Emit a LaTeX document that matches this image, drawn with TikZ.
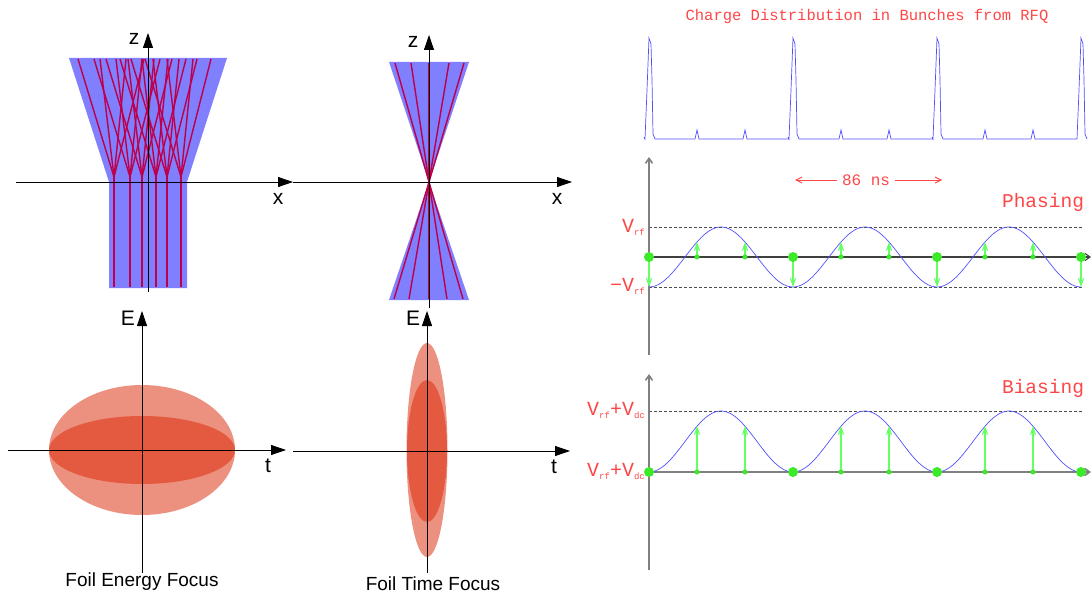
\documentclass[tikz,border=0pt]{standalone}
\usepackage{fontspec}
\setmainfont{Liberation Sans}
\newfontfamily\plotfont{Liberation Mono}
\usetikzlibrary{positioning}
\usetikzlibrary{arrows.meta}

\definecolor{beamblue}{RGB}{128,128,255}
\definecolor{raycrimson}{RGB}{190,0,75}
\definecolor{outerred}{RGB}{236,144,128}
\definecolor{innerred}{RGB}{228,90,64}
\definecolor{plotred}{RGB}{255,70,70}
\definecolor{curveblue}{RGB}{80,80,255}
\definecolor{kickgreen}{RGB}{100,255,100}
\definecolor{dotgreen}{RGB}{60,235,40}

\newcommand{\lowtxt}[1]{\raisebox{-3pt}{\fontsize{9}{9}\selectfont #1}}

\tikzset{
  plotaxis/.style={black, line width=0.8pt, -{Triangle[length=15pt,width=10pt]}},
  axlabel/.style={font=\fontsize{21}{21}\selectfont},
  caption/.style={font=\fontsize{19}{19}\selectfont},
  ray/.style={raycrimson, line width=1.4pt},
  rfaxis/.style={gray, line width=1.6pt, -{Straight Barb[length=5pt,width=7pt]}},
  rflevel/.style={black!70, densely dashed, line width=0.6pt},
  wave/.style={curveblue, line width=0.7pt},
  kick/.style={kickgreen, line width=1.1pt, -{Straight Barb[length=7pt,width=5pt]}},
  bigdot/.style={circle, fill=dotgreen, inner sep=0pt, minimum size=10pt},
  smalldot/.style={circle, fill=dotgreen, inner sep=0pt, minimum size=5pt},
  rftext/.style={text=plotred, font=\plotfont\fontsize{#1}{#1}\selectfont},
  rfarrow/.style={plotred, line width=0.9pt, -{Straight Barb[length=6pt,width=6pt]}}
}

\begin{document}
\begin{tikzpicture}[x=1pt, y=-1pt]
\useasboundingbox (0,0) rectangle (1092,599);

% energy focus, beam
\fill[beamblue] (69,58) -- (227,58) -- (187,182) -- (187,288) -- (109,288) -- (109,182) -- cycle;
\foreach \b in {114,130,142,156,167,181} {
  \foreach \d in {-36,-14,12,30}
    \draw[ray] (\b,177) -- (\b+\d,59);
  \draw[ray] (\b,177) -- (\b,287);
}
\coordinate (xl0) at (16,182);
\coordinate (xl1) at (293,182);
\coordinate (zl0) at (148,292);
\coordinate (zl1) at (148,33);
\draw[plotaxis] (xl0) -- (xl1);
\draw[plotaxis] (zl0) -- (zl1);
\node[axlabel] (xlab1) at (278,199) {x};
\node[axlabel] (zlab1) at (134,39) {z};

% time focus, beam
\fill[beamblue] (389,62) -- (469,62) -- (429,182) -- cycle;
\fill[beamblue] (389,300) -- (469,300) -- (429,182) -- cycle;
\foreach \t in {395,411,429,449,464}
  \draw[ray] (\t,63) -- (429,182) -- (858-\t,299);
\coordinate (xm0) at (293,182);
\coordinate (xm1) at (572,182);
\coordinate (zm0) at (429,308);
\coordinate (zm1) at (429,35);
\draw[plotaxis] (xm0) -- (xm1);
\draw[plotaxis] (zm0) -- (zm1);
\node[axlabel] (xlab2) at (557,199) {x};
\node[axlabel] (zlab2) at (413,42) {z};

% phase space
\fill[outerred] (142,450) ellipse [x radius=93pt, y radius=65pt];
\fill[innerred] (142,450) ellipse [x radius=93pt, y radius=34pt];
\coordinate (tl0) at (8,450);
\coordinate (tl1) at (286,450);
\coordinate (el0) at (142,573);
\coordinate (el1) at (142,311);
\draw[plotaxis] (tl0) -- (tl1);
\draw[plotaxis] (el0) -- (el1);
\node[axlabel] (tlab1) at (268,466) {t};
\node[axlabel] (elab1) at (128,318) {E};
\node[caption] (cap1) at (142,582) {Foil Energy Focus};

\fill[outerred] (427,450) ellipse [x radius=20.5pt, y radius=107pt];
\fill[innerred] (427,451) ellipse [x radius=20pt, y radius=71pt];
\coordinate (tm0) at (293,451);
\coordinate (tm1) at (570,451);
\coordinate (em0) at (427,573);
\coordinate (em1) at (427,311);
\draw[plotaxis] (tm0) -- (tm1);
\draw[plotaxis] (em0) -- (em1);
\node[axlabel] (tlab2) at (554,467) {t};
\node[axlabel] (elab2) at (413,318) {E};
\node[caption] (cap2) at (433,584) {Foil Time Focus};

% bunches from RFQ
\node[rftext=15.5] (title) at (867,16) {Charge Distribution in Bunches from RFQ};
\foreach \p in {649,793,937}
  \draw[wave] (\p-5,137) -- (\p-4,139) -- (\p-2,90) -- (\p,38) -- (\p+2,44) -- (\p+3,80) -- (\p+4,134) -- (\p+6,139)
    -- (\p+46,139) -- (\p+48,130) -- (\p+50,139) -- (\p+94,139) -- (\p+96,130) -- (\p+98,139) -- (\p+140,139);
\draw[wave] (1077,139) -- (1079,90) -- (1081,38) -- (1083,44) -- (1084,80) -- (1085,134) -- (1087,139);

% phasing
\coordinate (pv0) at (649,355);
\coordinate (pv1) at (649,157);
\coordinate (ph0) at (649,257);
\coordinate (ph1) at (1091,257);
\draw[rflevel] (649,227) -- (1083,227);
\draw[rflevel] (649,287) -- (1083,287);
\draw[rfaxis] (pv0) -- (pv1);
\draw[black!75, line width=1.1pt, -{Straight Barb[length=5pt,width=7pt]}] (ph0) -- (ph1);
\draw[wave] plot[domain=649:1081, samples=160] (\x,{257+30*cos(2.5*(\x-649))});
\foreach \i/\xx in {0/649,1/793,2/937,3/1081} {
  \coordinate (pbk\i) at (\xx,287);
  \draw[kick] (\xx,257) -- (pbk\i);
  \node[bigdot] (pb\i) at (\xx,257) {};
}
\foreach \i/\xx in {0/697,1/745,2/841,3/889,4/985,5/1033} {
  \coordinate (psk\i) at (\xx,242);
  \draw[kick] (\xx,257) -- (psk\i);
  \node[smalldot] (ps\i) at (\xx,257) {};
}
\node[rftext=16, inner xsep=5pt] (period) at (866,180) {86 ns};
\coordinate (perl) at (795,180);
\coordinate (perr) at (942,180);
\draw[rfarrow] (period) -- (perl);
\draw[rfarrow] (period) -- (perr);
\node[rftext=19.5] (phasing) at (1043,202) {Phasing};
\node[rftext=20, inner sep=0pt, anchor=base east] (vrf) at (645,232) {V\lowtxt{rf}};
\node[rftext=20, inner sep=0pt, anchor=base east] (mvrf) at (645,291) {−V\lowtxt{rf}};

% biasing
\coordinate (bv0) at (649,570);
\coordinate (bv1) at (649,374);
\coordinate (bh0) at (649,472);
\coordinate (bh1) at (1091,472);
\draw[rflevel] (649,411) -- (1083,411);
\draw[rfaxis] (bv0) -- (bv1);
\draw[rfaxis] (bh0) -- (bh1);
\draw[wave] plot[domain=649:1081, samples=160] (\x,{441.5+30.5*cos(2.5*(\x-649))});
\foreach \i/\xx in {0/649,1/793,2/937,3/1081}
  \node[bigdot] (bb\i) at (\xx,472) {};
\foreach \i/\xx in {0/697,1/745,2/841,3/889,4/985,5/1033} {
  \coordinate (bsk\i) at (\xx,426);
  \draw[kick] (\xx,472) -- (bsk\i);
  \node[smalldot] (bs\i) at (\xx,472) {};
}
\node[rftext=19.5] (biasing) at (1043,388) {Biasing};
\node[rftext=20, inner sep=0pt, anchor=base east] (vtop) at (645,415) {V\lowtxt{rf}+V\lowtxt{dc}};
\node[rftext=20, inner sep=0pt, anchor=base east] (vbot) at (645,476) {V\lowtxt{rf}+V\lowtxt{dc}};

\end{tikzpicture}
\end{document}
